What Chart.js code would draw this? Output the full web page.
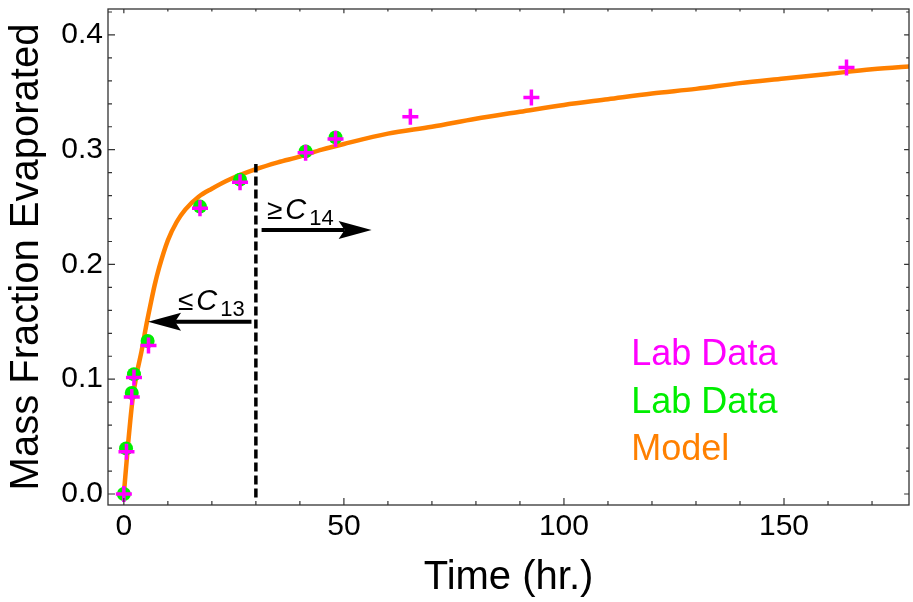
<!DOCTYPE html>
<html>
<head>
<meta charset="utf-8">
<script src="https://cdn.jsdelivr.net/npm/chart.js@4.4.0/dist/chart.umd.min.js"></script>
<style>
  html, body { margin: 0; padding: 0; background: #fff; }
</style>
</head>
<body>
<canvas id="massChart" width="913" height="602"></canvas>
<script>
// first lab run (plus markers)
const labTimeA = [0, 0.6, 1.8, 2.3, 5.6, 17.3, 26.4, 41.3, 48.1, 65.1, 92.6, 164.2];
const labMassA = [0, 0.0368, 0.0846, 0.1015, 0.1293, 0.249, 0.2716, 0.2974, 0.3093, 0.3287, 0.3455, 0.3716];

// second lab run (filled circles)
const labTimeB = [0, 0.5, 1.8, 2.3, 5.4, 17.3, 26.4, 41.3, 48.1];
const labMassB = [0, 0.0397, 0.0881, 0.1043, 0.1333, 0.2504, 0.2739, 0.2985, 0.3107];

// model curve
const modelTime = [0, 1, 2, 3, 4, 5, 6, 7, 8, 10, 12, 14, 17, 20, 24, 30, 35, 40, 45, 50,
                   60, 70, 80, 90, 100, 110, 120, 130, 140, 150, 160, 170, 180];
const modelMass = [0, 0.045, 0.083, 0.106, 0.124, 0.145, 0.164, 0.182, 0.197, 0.221, 0.237, 0.248, 0.259, 0.266, 0.274, 0.283, 0.289, 0.294, 0.300, 0.305,
                   0.314, 0.320, 0.327, 0.333, 0.339, 0.344, 0.349, 0.353, 0.358, 0.362, 0.366, 0.370, 0.373];

const seriesNames = ['Lab Data', 'Lab Data', 'Model'];
const seriesColors = ['#ff00ff', '#00ee00', '#ff8000'];

// carbon-number cut: vertical marker and the two arrows
const cutTime = 30;
const cutRange = [-0.003, 0.2875];
const leftArrow = { from: [29.0, 0.15], to: [5.5, 0.15], label: ['\u2264', 'C', '13'], at: [12.3, 0.16] };
const rightArrow = { from: [31.3, 0.23], to: [56.3, 0.23], label: ['\u2265', 'C', '14'], at: [32.5, 0.2397] };

const FONT = '"Liberation Sans", Arial, sans-serif';

function pairs(xs, ys) {
  return xs.map((x, i) => ({ x: x, y: ys[i] }));
}

function isMajor(v, step) {
  return Math.abs(v / step - Math.round(v / step)) < 1e-6;
}

function drawArrow(ctx, x1, y1, x2, y2) {
  const dir = Math.sign(x2 - x1);
  const headLen = 33, headHalf = 9, notch = 6;
  ctx.save();
  ctx.strokeStyle = '#000';
  ctx.fillStyle = '#000';
  ctx.lineWidth = 4;
  ctx.beginPath();
  ctx.moveTo(x1, y1);
  ctx.lineTo(x2 - dir * (headLen - notch), y2);
  ctx.stroke();
  ctx.beginPath();
  ctx.moveTo(x2, y2);
  ctx.lineTo(x2 - dir * headLen, y2 - headHalf);
  ctx.lineTo(x2 - dir * (headLen - notch), y2);
  ctx.lineTo(x2 - dir * headLen, y2 + headHalf);
  ctx.closePath();
  ctx.fill();
  ctx.restore();
}

function drawCutLabel(ctx, parts, x, y) {
  ctx.save();
  ctx.fillStyle = '#000';
  ctx.textBaseline = 'alphabetic';
  ctx.textAlign = 'left';
  ctx.font = '28px ' + FONT;
  ctx.fillText(parts[0], x, y);
  x += ctx.measureText(parts[0]).width + 3;
  ctx.font = 'italic 29px ' + FONT;
  ctx.fillText(parts[1], x, y);
  x += ctx.measureText(parts[1]).width + 3;
  ctx.font = '22px ' + FONT;
  ctx.fillText(parts[2], x, y + 6);
  ctx.restore();
}

const framePlugin = {
  id: 'frame',
  afterDatasetsDraw(chart) {
    const { ctx, chartArea: a, scales: { x, y } } = chart;

    // dashed cut line
    ctx.save();
    ctx.strokeStyle = '#000';
    ctx.lineWidth = 3.5;
    ctx.setLineDash([9, 4]);
    ctx.beginPath();
    ctx.moveTo(x.getPixelForValue(cutTime), y.getPixelForValue(cutRange[0]));
    ctx.lineTo(x.getPixelForValue(cutTime), y.getPixelForValue(cutRange[1]));
    ctx.stroke();
    ctx.restore();

    [leftArrow, rightArrow].forEach(ar => {
      drawArrow(ctx, x.getPixelForValue(ar.from[0]), y.getPixelForValue(ar.from[1]),
                x.getPixelForValue(ar.to[0]), y.getPixelForValue(ar.to[1]));
      drawCutLabel(ctx, ar.label, x.getPixelForValue(ar.at[0]), y.getPixelForValue(ar.at[1]));
    });

    // frame with inward ticks on all four sides
    ctx.save();
    ctx.strokeStyle = '#333';
    ctx.lineWidth = 1.3;
    ctx.strokeRect(a.left, a.top, a.right - a.left, a.bottom - a.top);
    ctx.lineWidth = 1.2;
    ctx.beginPath();
    x.ticks.forEach(t => {
      const px = x.getPixelForValue(t.value);
      const len = isMajor(t.value, 50) ? 7 : 4;
      ctx.moveTo(px, a.bottom); ctx.lineTo(px, a.bottom - len);
      ctx.moveTo(px, a.top); ctx.lineTo(px, a.top + len * 0.6);
    });
    y.ticks.forEach(t => {
      const py = y.getPixelForValue(t.value);
      const len = isMajor(t.value, 0.1) ? 7 : 4;
      ctx.moveTo(a.left, py); ctx.lineTo(a.left + len, py);
      ctx.moveTo(a.right, py); ctx.lineTo(a.right - len * 0.7, py);
    });
    ctx.stroke();
    ctx.restore();
  },
  afterDraw(chart) {
    // series names, coloured like their marks
    const { ctx, scales: { x, y } } = chart;
    ctx.save();
    ctx.font = '36px ' + FONT;
    ctx.textAlign = 'left';
    ctx.textBaseline = 'alphabetic';
    const lx = x.getPixelForValue(115.3);
    const ly = y.getPixelForValue(0.112);
    chart.data.datasets.forEach((ds, i) => {
      ctx.fillStyle = seriesColors[i];
      ctx.fillText(ds.label, lx, ly + i * 47.5);
    });
    ctx.restore();
  }
};

new Chart(document.getElementById('massChart'), {
  type: 'scatter',
  data: {
    datasets: [
      {
        label: seriesNames[0],
        data: pairs(labTimeA, labMassA),
        pointStyle: 'cross',
        pointRadius: 8,
        pointBorderWidth: 3.5,
        borderColor: seriesColors[0],
        backgroundColor: seriesColors[0],
        order: 0
      },
      {
        label: seriesNames[1],
        data: pairs(labTimeB, labMassB),
        pointStyle: 'circle',
        pointRadius: 7,
        pointBorderWidth: 0,
        borderColor: seriesColors[1],
        backgroundColor: seriesColors[1],
        order: 1
      },
      {
        label: seriesNames[2],
        data: pairs(modelTime, modelMass),
        showLine: true,
        pointRadius: 0,
        borderWidth: 4.5,
        borderColor: seriesColors[2],
        backgroundColor: seriesColors[2],
        cubicInterpolationMode: 'monotone',
        order: 2
      }
    ]
  },
  options: {
    responsive: false,
    animation: false,
    layout: { autoPadding: false, padding: { top: 9, right: 4, left: 0, bottom: 0 } },
    plugins: { legend: { display: false }, tooltip: { enabled: false } },
    scales: {
      x: {
        type: 'linear',
        min: -3.6,
        max: 178.4,
        grid: { display: false, drawTicks: false },
        border: { display: false },
        ticks: {
          stepSize: 10,
          includeBounds: false,
          autoSkip: false,
          maxRotation: 0,
          padding: 4,
          color: '#000',
          font: { family: FONT, size: 30 },
          callback: v => isMajor(v, 50) ? String(Math.round(v)) : ''
        },
        title: {
          display: true,
          text: 'Time (hr.)',
          color: '#000',
          font: { family: FONT, size: 40 },
          padding: { top: 0, bottom: 0 }
        },
        afterFit: s => { s.height = 97; s.paddingLeft = 0; s.paddingRight = 0; }
      },
      y: {
        type: 'linear',
        min: -0.0096,
        max: 0.4226,
        grid: { display: false, drawTicks: false },
        border: { display: false },
        ticks: {
          stepSize: 0.02,
          includeBounds: false,
          autoSkip: false,
          padding: 5,
          color: '#000',
          font: { family: FONT, size: 30 },
          callback: v => isMajor(v, 0.1) ? v.toFixed(1) : ''
        },
        title: {
          display: true,
          text: 'Mass Fraction Evaporated',
          color: '#000',
          font: { family: FONT, size: 40 },
          padding: { top: 3, bottom: 0 }
        },
        afterFit: s => { s.width = 108; s.paddingTop = 0; s.paddingBottom = 0; }
      }
    }
  },
  plugins: [framePlugin]
});
</script>
</body>
</html>
